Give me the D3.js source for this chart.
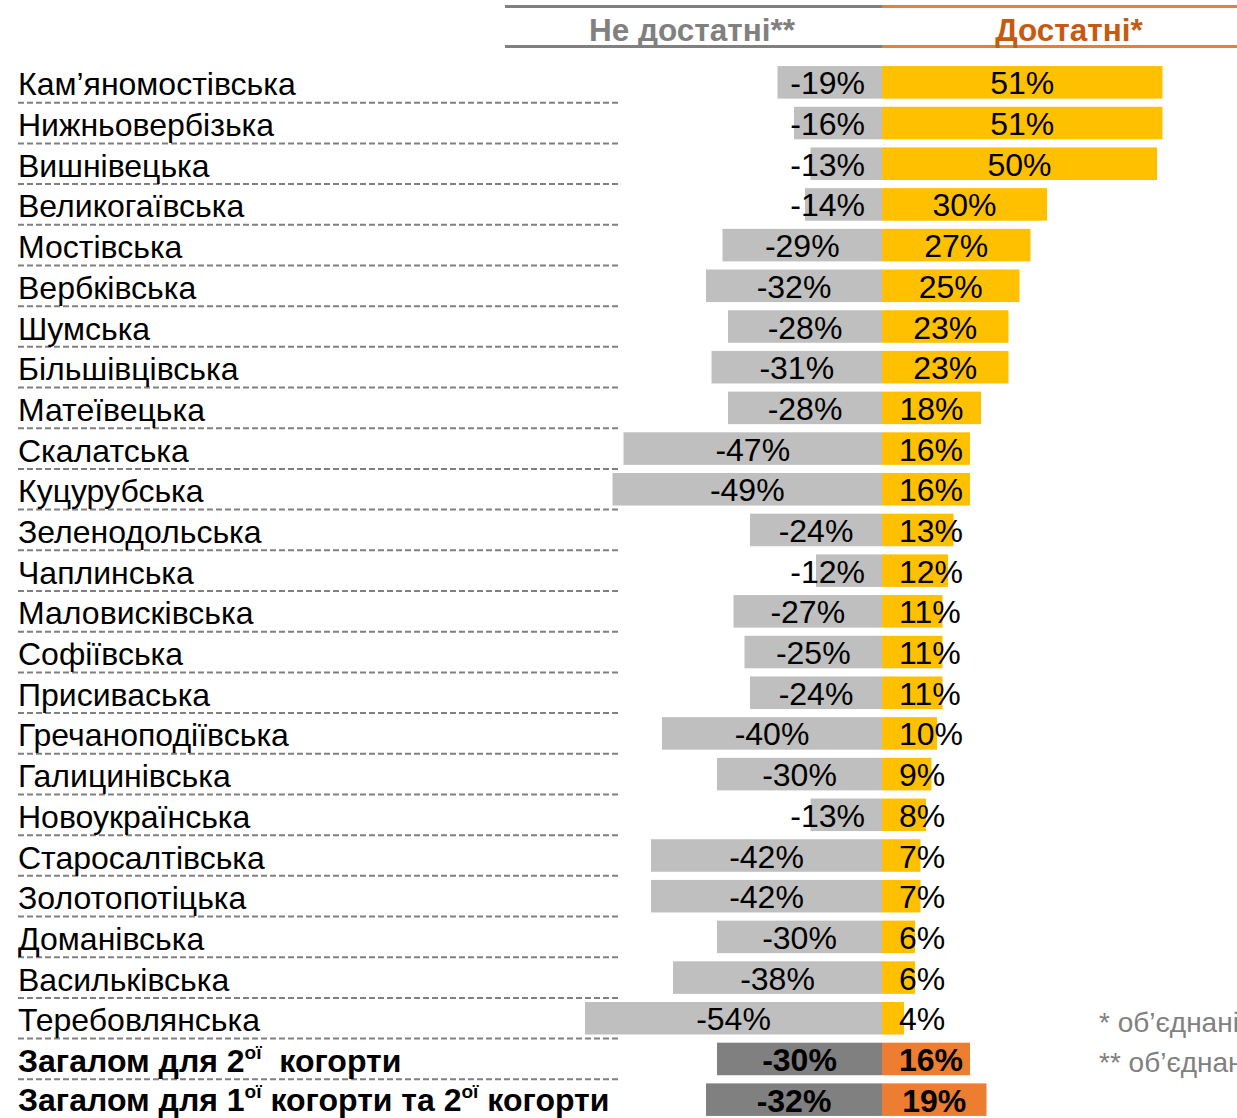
<!DOCTYPE html>
<html>
<head>
<meta charset="utf-8">
<script src="https://cdn.jsdelivr.net/npm/d3@7"></script>
<style>
  body { margin: 0; background: #fff; overflow: hidden; }
  svg { display: block; font-family: "Liberation Sans", Arial, sans-serif; }
</style>
</head>
<body>
<svg id="chart" width="1237" height="1118"></svg>
<script>
// communities, top to bottom
var names = ["Кам’яномостівська", "Нижньовербізька", "Вишнівецька", "Великогаївська", "Мостівська",
  "Вербківська", "Шумська", "Більшівцівська", "Матеївецька", "Скалатська", "Куцурубська",
  "Зеленодольська", "Чаплинська", "Маловисківська", "Софіївська", "Присиваська",
  "Гречаноподіївська", "Галицинівська", "Новоукраїнська", "Старосалтівська", "Золотопотіцька",
  "Доманівська", "Васильківська", "Теребовлянська", "total2", "total12"];

// "не достатні" (negative side) and "достатні" (positive side), in %
var notEnough = [-19, -16, -13, -14, -29, -32, -28, -31, -28, -47, -49, -24, -12, -27, -25, -24,
  -40, -30, -13, -42, -42, -30, -38, -54, -30, -32];
var enough = [51, 51, 50, 30, 27, 25, 23, 23, 18, 16, 16, 13, 12, 11, 11, 11, 10, 9, 8, 7, 7, 6, 6, 4, 16, 19];

var headers = ["Не достатні**", "Достатні*"];
var footnotes = ["* об’єднані", "** об’єднані"];

var negColor = "#BFBFBF", posColor = "#FFC000";
var negTotal = "#808080", posTotal = "#ED7D31";

var svg = d3.select("#chart");

var x = d3.scaleLinear().domain([-60, 60]).range([552, 1212]);
var y = d3.scaleBand().domain(names).range([62, 1120]).paddingInner(0.2).paddingOuter(0.1);
var step = y.step();

// header lines
var hdr = svg.append("g");
hdr.append("rect").attr("x", 505).attr("y", 5).attr("width", x(0) - 505).attr("height", 3).attr("fill", "#808080");
hdr.append("rect").attr("x", x(0)).attr("y", 5).attr("width", 1237 - x(0)).attr("height", 3).attr("fill", "#ED7D31");
hdr.append("rect").attr("x", 505).attr("y", 45).attr("width", x(0) - 505).attr("height", 3).attr("fill", "#808080");
hdr.append("rect").attr("x", x(0)).attr("y", 45).attr("width", 1237 - x(0)).attr("height", 3).attr("fill", "#ED7D31");
hdr.append("text").attr("x", 692).attr("y", 41).attr("text-anchor", "middle")
  .attr("font-size", 31.5).attr("font-weight", "bold").attr("fill", "#808080").text(headers[0]);
hdr.append("text").attr("x", 1069).attr("y", 41).attr("text-anchor", "middle")
  .attr("font-size", 31.5).attr("font-weight", "bold").attr("fill", "#C55A11").text(headers[1]);

// dashed separators under labels
svg.append("g").selectAll("line")
  .data(d3.range(25))
  .enter().append("line")
  .attr("x1", 18).attr("x2", 621)
  .attr("y1", function (i) { return 62 + step * (i + 1); })
  .attr("y2", function (i) { return 62 + step * (i + 1); })
  .attr("stroke", "#808080").attr("stroke-width", 2).attr("stroke-dasharray", "6,3");

var rows = names.map(function (n, i) {
  return { name: n, neg: notEnough[i], pos: enough[i], total: i >= 24 };
});

// bars
svg.append("g").selectAll("rect.neg")
  .data(rows).enter().append("rect")
  .attr("x", function (d) { return x(d.neg); })
  .attr("y", function (d) { return y(d.name); })
  .attr("width", function (d) { return x(0) - x(d.neg); })
  .attr("height", y.bandwidth())
  .attr("fill", function (d) { return d.total ? negTotal : negColor; });

svg.append("g").selectAll("rect.pos")
  .data(rows).enter().append("rect")
  .attr("x", x(0))
  .attr("y", function (d) { return y(d.name); })
  .attr("width", function (d) { return x(d.pos) - x(0); })
  .attr("height", y.bandwidth())
  .attr("fill", function (d) { return d.total ? posTotal : posColor; });

// value labels - centred in bar, but kept clear of the zero line when bar is short
var lab = svg.append("g").attr("font-size", 32).attr("text-anchor", "middle").attr("fill", "#000");
lab.selectAll("text.neg")
  .data(rows).enter().append("text")
  .attr("y", function (d) { return y(d.name) + y.bandwidth() / 2 + 12; })
  .attr("font-weight", function (d) { return d.total ? "bold" : null; })
  .text(function (d) { return d.neg + "%"; })
  .attr("x", function (d) {
    var w = this.getComputedTextLength();
    return Math.min((x(d.neg) + x(0)) / 2, x(0) - 17 - w / 2);
  });
lab.selectAll("text.pos")
  .data(rows).enter().append("text")
  .attr("y", function (d) { return y(d.name) + y.bandwidth() / 2 + 12; })
  .attr("font-weight", function (d) { return d.total ? "bold" : null; })
  .text(function (d) { return d.pos + "%"; })
  .attr("x", function (d) {
    var w = this.getComputedTextLength();
    return Math.max((x(d.pos) + x(0)) / 2, x(0) + 17 + w / 2);
  });

// row labels
var names_g = svg.append("g").attr("font-size", 32).attr("fill", "#000");
names_g.selectAll("text")
  .data(rows.filter(function (d) { return !d.total; }))
  .enter().append("text")
  .attr("x", 18)
  .attr("y", function (d) { return y(d.name) + y.bandwidth() / 2 + 13; })
  .text(function (d) { return d.name; });

// total rows with superscripts
var t2 = names_g.append("text").attr("x", 18).attr("y", y("total2") + y.bandwidth() / 2 + 13)
  .attr("font-weight", "bold").attr("xml:space", "preserve");
t2.append("tspan").text("Загалом для 2");
t2.append("tspan").attr("dy", -13).attr("font-size", 19).text("ої");
t2.append("tspan").attr("dy", 13).text("  когорти");

var t12 = names_g.append("text").attr("x", 18).attr("y", y("total12") + y.bandwidth() / 2 + 11).attr("font-weight", "bold");
t12.append("tspan").text("Загалом для 1");
t12.append("tspan").attr("dy", -13).attr("font-size", 19).text("ої");
t12.append("tspan").attr("dy", 13).text(" когорти та 2");
t12.append("tspan").attr("dy", -13).attr("font-size", 19).text("ої");
t12.append("tspan").attr("dy", 13).text(" когорти");

// footnotes (run to the right edge as in the original)
svg.append("g").attr("font-size", 28).attr("fill", "#808080")
  .selectAll("text").data(footnotes).enter().append("text")
  .attr("x", 1099)
  .attr("y", function (d, i) { return 1032 + i * 40; })
  .text(function (d) { return d; });
</script>
</body>
</html>
